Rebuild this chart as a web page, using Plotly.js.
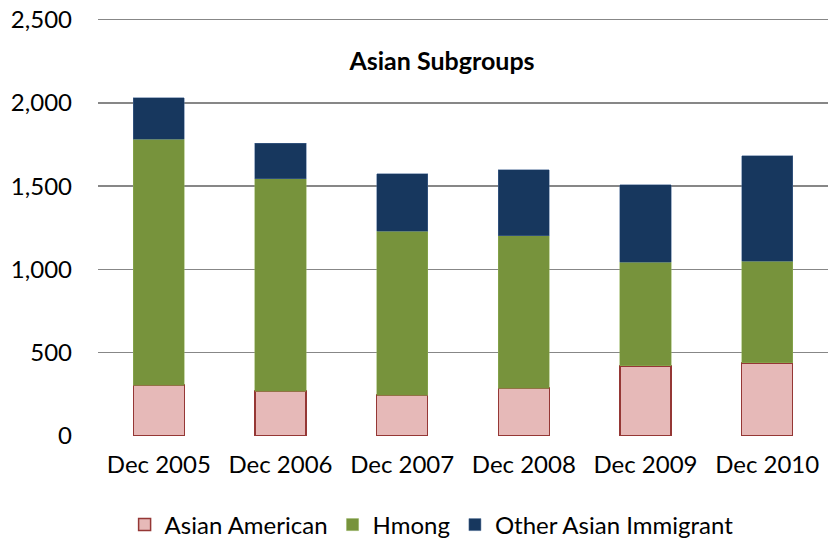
<!DOCTYPE html>
<html><head><meta charset="utf-8">
<script src="https://cdn.plot.ly/plotly-3.0.1.min.js"></script>
<style>html,body{margin:0;padding:0;background:#fff}</style>
</head><body>
<div id="chart" style="width:830px;height:542px"></div>
<script>
const categories = ["Dec 2005","Dec 2006","Dec 2007","Dec 2008","Dec 2009","Dec 2010"];
const asianAmerican = [306, 270, 246, 288, 421, 439];
const hmong = [1477, 1274, 984, 914, 623, 609];
const otherAsian = [248, 215, 346, 397, 464, 635];
const yTicks = [0, 500, 1000, 1500, 2000, 2500];
const yTickLabels = ["0", "500", "1,000", "1,500", "2,000", "2,500"];

const FONT = "Lato, 'Open Sans', sans-serif";
const traces = [
  {type:"bar", name:"Asian American", x:categories, y:asianAmerican,
   marker:{color:"#E6B9B8", line:{color:"#953735", width:1.5}}},
  {type:"bar", name:"Hmong", x:categories, y:hmong,
   marker:{color:"#77933C", line:{color:"#8FAF55", width:0.5}}},
  {type:"bar", name:"Other Asian Immigrant", x:categories, y:otherAsian,
   marker:{color:"#17375E", line:{color:"#4A6A96", width:0.5}}}
];
const layout = {
  width:830, height:542,
  barmode:"stack", bargap:0.58,
  paper_bgcolor:"#fff", plot_bgcolor:"#fff",
  margin:{l:98, r:2, t:18, b:106},
  font:{family:FONT, size:24, color:"#000"},
  title:{text:"<b>Asian Subgroups</b>", x:442/830, xanchor:"center", xref:"container",
         y:1-61/542, yref:"container", yanchor:"middle",
         font:{family:FONT, size:25, color:"#000"}},
  xaxis:{type:"category", showgrid:false, zeroline:false, showline:false,
         ticks:"", ticklabelstandoff:12, tickfont:{family:FONT, size:24, color:"#000"}},
  yaxis:{range:[0,2510], tickvals:yTicks, ticktext:yTickLabels,
         showgrid:true, gridcolor:"#878787", gridwidth:1.5, zeroline:false, showline:false,
         ticks:"", ticklabelstandoff:25, tickfont:{family:FONT, size:24, color:"#000"}},
  showlegend:true,
  legend:{orientation:"h", x:0.52, xanchor:"center", xref:"container", y:1-525/542, yref:"container", yanchor:"middle",
          font:{family:FONT, size:24, color:"#000"}, traceorder:"normal", itemwidth:30,
          bgcolor:"rgba(0,0,0,0)"}
};
Plotly.newPlot("chart", traces, layout, {displayModeBar:false, staticPlot:true});
</script>
</body></html>
